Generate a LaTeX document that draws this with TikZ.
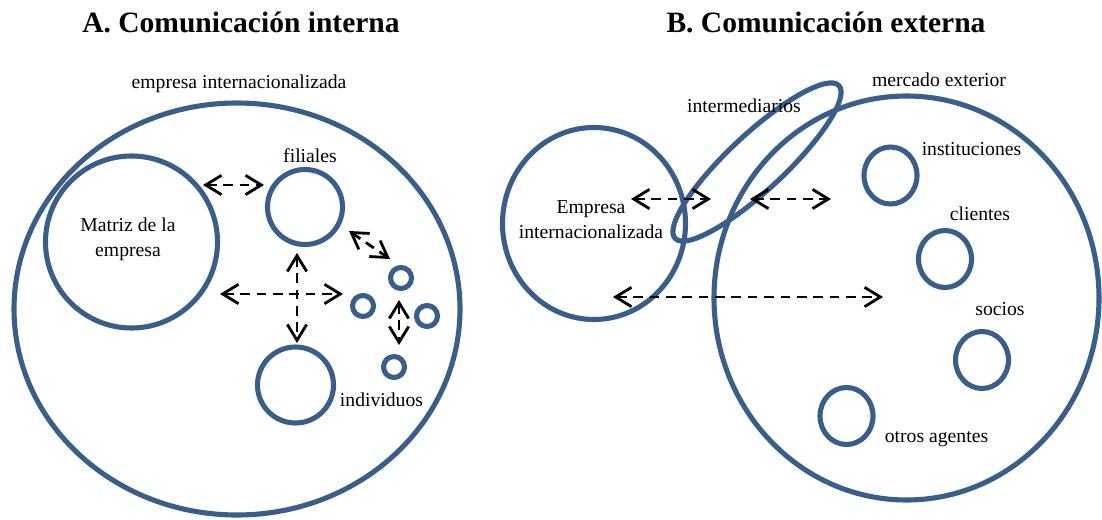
\documentclass[tikz,border=0pt]{standalone}
\usepackage{fontspec}
\setmainfont{Liberation Serif}
\usetikzlibrary{arrows.meta,shapes.geometric}
\definecolor{ringblue}{RGB}{58,94,140}

\begin{document}
\begin{tikzpicture}[x=0.02cm,y=-0.02cm,
  ring/.style={draw=ringblue, line width=2.9pt, circle, inner sep=0pt, minimum size={2*#1*0.02cm}},
  oval/.style 2 args={draw=ringblue, line width=2.9pt, ellipse, inner sep=0pt,
                      minimum width={2*#1*0.02cm}, minimum height={2*#2*0.02cm}},
  flow/.style={black, line width=1.6pt, dash pattern=on 5.5pt off 3.8pt,
               {Straight Barb[length=9pt,width=11pt]}-{Straight Barb[length=9pt,width=11pt]}},
  lbl/.style={font=\fontsize{11.2}{14.2}\selectfont, anchor=base, inner sep=0pt},
  ttl/.style={font=\fontsize{16.8}{19}\selectfont\bfseries, anchor=base, inner sep=0pt}]
\useasboundingbox (0,0) rectangle (1102,520);

% ---------- A. internal communication ----------
\node[ttl] (titleA) at (241,33) {A. Comunicación interna};
\node[lbl] (lblEmpA) at (239,89) {empresa internacionalizada};

\node[oval={223}{206}] (empA) at (237,309) {};
\node[ring=86] (matriz) at (131.5,242) {};
% base anchor of a two-line node sits on its last line
\node[lbl, align=center] (lblMatriz) at (128,256) {Matriz de la\\empresa};
\node[ring=37.5] (filiales) at (305,207) {};
\node[lbl] (lblFil) at (310,163) {filiales};
\node[ring=38] (indiv) at (295.5,385) {};
\node[lbl] (lblInd) at (381.5,406) {individuos};
\node[ring=10.5] (p1) at (401,278) {};
\node[ring=10.5] (p2) at (363,306) {};
\node[ring=10.5] (p3) at (427,316) {};
\node[ring=10.5] (p4) at (394,367) {};

\coordinate (a1s) at (203,185);  \coordinate (a1e) at (264,185);
\coordinate (a2s) at (349,231);  \coordinate (a2e) at (390,259);
\coordinate (a3s) at (220,294);  \coordinate (a3e) at (343,294);
\coordinate (a4s) at (297,253);  \coordinate (a4e) at (297,343);
\coordinate (a5s) at (399,300);  \coordinate (a5e) at (399,345);
\draw[flow] (a1s) -- (a1e);
\draw[flow] (a2s) -- (a2e);
\draw[flow] (a3s) -- (a3e);
\draw[flow] (a4s) -- (a4e);
\draw[flow] (a5s) -- (a5e);

% ---------- B. external communication ----------
\node[ttl] (titleB) at (826,33) {B. Comunicación externa};

\node[oval={91.5}{96}] (empB) at (594,223.5) {};
\node[lbl, align=center] (lblEmpB) at (591,238) {Empresa\\internacionalizada};
\node[oval={192.5}{202}] (mercado) at (906.5,298) {};
\node[lbl] (lblMerc) at (939,87) {mercado exterior};
\node[oval={112}{28}, rotate=43] (interm) at (757,162) {};
\node[lbl] (lblInt) at (744,113) {intermediarios};

\node[oval={26.5}{28.5}] (inst) at (890.5,175.5) {};
\node[lbl] (lblInst) at (971.5,156) {instituciones};
\node[oval={26.5}{28.5}] (cli) at (945,259) {};
\node[lbl] (lblCli) at (980,221) {clientes};
\node[oval={26.5}{28.5}] (soc) at (982,360) {};
\node[lbl] (lblSoc) at (1000,316) {socios};
\node[oval={26.5}{28.5}] (otros) at (846.5,416) {};
\node[lbl] (lblOtros) at (936.5,442) {otros agentes};

\coordinate (b1s) at (631,199);  \coordinate (b1e) at (711,199);
\coordinate (b2s) at (750,199);  \coordinate (b2e) at (831,199);
\coordinate (b3s) at (613,297);  \coordinate (b3e) at (883,297);
\draw[flow] (b1s) -- (b1e);
\draw[flow] (b2s) -- (b2e);
\draw[flow] (b3s) -- (b3e);
\end{tikzpicture}
\end{document}
